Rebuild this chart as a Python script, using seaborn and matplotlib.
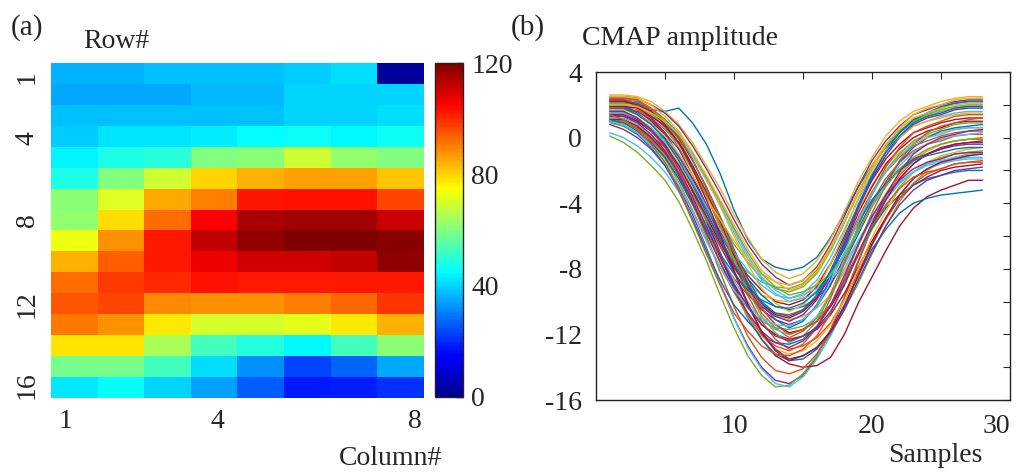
import numpy as np
import pandas as pd
import matplotlib
matplotlib.use("Agg")
import matplotlib.pyplot as plt
from matplotlib.colors import LinearSegmentedColormap
import seaborn as sns

# heatmap values per electrode (16 rows x 8 columns)
amp_grid = [
    [36, 36, 37.5, 37.5, 37.5, 39, 41, 2],
    [35, 35, 35, 37, 37, 40, 40, 40],
    [37.5, 37.5, 37.5, 37.5, 37.5, 40, 40, 41],
    [39, 42, 42, 43, 45, 46, 44.5, 46],
    [44, 48, 49.5, 60, 61, 69, 62, 60],
    [48, 60, 69, 80, 84, 86, 86, 82],
    [61, 71, 85, 90, 102.5, 103, 103, 97],
    [62, 79, 92, 105, 115, 116, 116, 111],
    [73, 88, 102, 112, 117.5, 120, 120, 119],
    [84, 94, 102, 107, 110.5, 110.5, 112, 118],
    [92, 98, 100, 103, 102, 102, 102, 102],
    [95, 97, 89, 88, 88, 90, 93, 98.5],
    [90.5, 88, 77.5, 70, 70, 72, 77.5, 84],
    [78, 78, 65, 52.5, 49, 44.5, 52.5, 61],
    [59, 59, 52.5, 41, 32, 23, 27, 35],
    [42.5, 45, 40, 34, 26, 18, 18.5, 21],
]
row_labels = ["1", "4", "8", "12", "16"]
col_labels = ["1", "4", "8"]

# CMAP waveforms, 28 samples each (estimated from the traces)
samples = list(range(1, 29))
waveforms = [
    [2.4, 2.4, 2.3, 1.7, 1.6, 1.8, 0.9, -0.4, -2.2, -4.4, -6.2, -7.4, -7.9, -8.1, -7.9, -7.3, -6.1, -4.6, -3.0, -1.7, -0.6, 0.3, 1.0, 1.5, 1.9, 2.1, 2.2, 2.2],
    [1.8, 1.8, 1.7, 1.2, 0.5, -0.4, -1.8, -3.5, -5.3, -7.3, -9.1, -10.7, -11.6, -12.2, -11.8, -11.0, -9.5, -7.6, -5.6, -3.9, -2.5, -1.5, -0.8, -0.4, -0.2, 0.1, 0.2, 0.2],
    [1.3, 1.1, 0.6, -0.1, -1.0, -2.2, -3.7, -5.3, -6.7, -8.0, -8.9, -9.6, -9.9, -10.0, -9.7, -8.9, -7.7, -6.1, -4.4, -2.9, -1.7, -0.9, -0.3, 0.1, 0.3, 0.5, 0.6, 0.6],
    [0.8, 0.5, 0.0, -0.7, -1.7, -3.0, -4.7, -6.7, -8.9, -11.0, -12.7, -14.0, -14.8, -15.0, -14.5, -13.4, -11.8, -9.8, -7.6, -5.5, -3.8, -2.5, -1.6, -1.0, -0.6, -0.4, -0.3, -0.3],
    [0.1, -0.3, -0.9, -1.7, -2.6, -3.9, -5.6, -7.5, -9.6, -11.6, -13.3, -14.5, -15.2, -15.1, -14.4, -13.3, -12.0, -10.5, -8.9, -7.1, -5.4, -3.9, -2.8, -2.0, -1.5, -1.2, -1.0, -0.9],
    [0.3, 0.0, -0.5, -1.2, -2.1, -3.3, -4.9, -6.8, -8.9, -11.0, -12.8, -14.1, -15.0, -15.2, -14.6, -13.5, -12.1, -10.4, -8.5, -6.6, -4.9, -3.5, -2.5, -1.9, -1.6, -1.4, -1.3, -1.3],
    [1.0, 0.9, 0.6, 0.1, -0.6, -1.7, -3.2, -5.0, -7.0, -9.0, -10.8, -12.3, -13.3, -13.8, -14.0, -13.9, -13.4, -12.0, -10.1, -8.5, -6.9, -5.4, -4.3, -3.6, -3.2, -2.9, -2.6, -2.6],
    [1.4, 1.3, 1.0, 0.4, -0.4, -1.6, -3.2, -5.1, -7.2, -9.2, -11.0, -12.3, -13.2, -13.6, -13.5, -12.9, -11.8, -10.2, -8.4, -6.8, -5.6, -4.6, -4.0, -3.7, -3.5, -3.4, -3.3, -3.2],
    [1.2, 1.0, 0.6, -0.1, -1.0, -2.3, -4.0, -6.0, -8.2, -10.3, -12.1, -13.4, -14.2, -14.4, -14.1, -13.2, -11.7, -9.7, -7.5, -5.4, -3.6, -2.3, -1.4, -0.8, -0.4, -0.2, -0.1, -0.1],
    [2.6, 2.6, 2.5, 2.2, 1.6, 0.8, -0.3, -1.7, -3.1, -4.7, -6.1, -7.4, -8.2, -8.6, -8.3, -7.5, -6.2, -4.5, -2.7, -1.2, 0.1, 1.0, 1.6, 1.9, 2.2, 2.4, 2.5, 2.5],
    [2.5, 2.5, 2.4, 2.0, 1.5, 0.7, -0.5, -1.9, -3.4, -5.0, -6.5, -7.7, -8.5, -9.0, -8.7, -7.9, -6.5, -4.8, -3.0, -1.4, -0.2, 0.7, 1.4, 1.7, 2.0, 2.2, 2.3, 2.3],
    [2.4, 2.4, 2.0, 1.5, 0.6, -0.6, -2.0, -3.5, -5.0, -6.5, -7.6, -8.6, -9.2, -9.4, -9.1, -8.3, -6.9, -5.2, -3.4, -1.8, -0.5, 0.4, 1.1, 1.4, 1.7, 1.9, 2.0, 2.0],
    [2.2, 2.2, 2.1, 1.7, 1.1, 0.3, -0.9, -2.4, -3.9, -5.6, -7.2, -8.5, -9.3, -9.8, -9.5, -8.7, -7.3, -5.6, -3.8, -2.2, -0.9, 0.0, 0.7, 1.0, 1.3, 1.5, 1.6, 1.6],
    [2.0, 2.0, 1.6, 1.0, 0.2, -1.1, -2.5, -4.1, -5.7, -7.2, -8.4, -9.3, -10.0, -10.2, -9.9, -9.1, -7.7, -6.0, -4.2, -2.6, -1.3, -0.4, 0.3, 0.6, 0.9, 1.1, 1.2, 1.2],
    [1.9, 1.9, 1.5, 0.9, 0.0, -1.2, -2.7, -4.3, -5.9, -7.4, -8.6, -9.6, -10.3, -10.5, -10.3, -9.8, -8.9, -7.6, -5.9, -4.2, -2.7, -1.5, -0.6, 0.0, 0.4, 0.6, 0.7, 0.8],
    [1.2, 1.0, 0.5, -0.2, -1.2, -2.5, -4.1, -5.8, -7.3, -8.6, -9.6, -10.3, -10.7, -10.8, -10.5, -9.7, -8.3, -6.7, -4.9, -3.3, -2.1, -1.2, -0.5, -0.2, 0.1, 0.3, 0.4, 0.4],
    [1.6, 1.6, 1.2, 0.6, -0.3, -1.6, -3.1, -4.8, -6.4, -7.9, -9.2, -10.2, -10.9, -11.1, -10.9, -10.4, -9.6, -8.2, -6.6, -4.9, -3.4, -2.2, -1.3, -0.8, -0.4, -0.2, -0.1, 0.0],
    [1.5, 1.5, 1.1, 0.5, -0.4, -1.7, -3.3, -5.0, -6.6, -8.2, -9.5, -10.5, -11.1, -11.4, -11.1, -10.3, -9.0, -7.3, -5.6, -4.0, -2.8, -1.9, -1.3, -1.0, -0.7, -0.5, -0.4, -0.4],
    [1.3, 1.0, 0.5, -0.3, -1.3, -2.7, -4.4, -6.2, -7.9, -9.4, -10.4, -11.2, -11.6, -11.7, -11.5, -11.0, -10.2, -8.9, -7.2, -5.6, -4.2, -3.0, -2.1, -1.6, -1.2, -1.0, -0.9, -0.8],
    [1.2, 1.2, 0.8, 0.1, -0.8, -2.1, -3.7, -5.4, -7.1, -8.7, -10.0, -11.1, -11.7, -12.0, -11.7, -10.9, -9.6, -8.0, -6.3, -4.8, -3.6, -2.7, -2.1, -1.7, -1.5, -1.3, -1.2, -1.2],
    [1.1, 1.1, 0.7, 0.0, -0.9, -2.3, -3.9, -5.6, -7.3, -9.0, -10.3, -11.4, -12.0, -12.3, -12.1, -11.7, -10.8, -9.5, -7.9, -6.3, -4.9, -3.7, -2.9, -2.4, -2.0, -1.8, -1.7, -1.6],
    [1.0, 0.7, 0.2, -0.6, -1.7, -3.2, -5.0, -6.9, -8.7, -10.2, -11.2, -12.1, -12.5, -12.6, -12.3, -11.5, -10.3, -8.7, -7.0, -5.5, -4.3, -3.5, -2.9, -2.5, -2.3, -2.1, -2.0, -2.0],
    [2.3, 2.3, 2.2, 1.7, 0.9, -0.1, -1.7, -3.5, -5.5, -7.6, -9.6, -11.2, -12.3, -12.9, -12.7, -12.2, -11.3, -9.9, -8.2, -6.5, -5.0, -3.7, -2.8, -2.2, -1.9, -1.6, -1.5, -1.4],
    [2.1, 2.1, 1.6, 0.9, -0.2, -1.7, -3.6, -5.6, -7.5, -9.4, -10.9, -12.1, -12.9, -13.2, -13.0, -12.4, -11.4, -9.9, -8.0, -6.1, -4.5, -3.1, -2.1, -1.5, -1.1, -0.9, -0.7, -0.6],
    [1.7, 1.7, 1.6, 1.1, 0.3, -0.7, -2.3, -4.1, -6.1, -8.2, -10.2, -11.8, -12.9, -13.5, -13.3, -12.8, -11.9, -10.5, -8.7, -7.0, -5.4, -4.1, -3.2, -2.6, -2.3, -2.0, -1.9, -1.8],
    [0.9, 0.7, 0.3, -0.3, -1.1, -2.2, -3.5, -5.0, -6.3, -7.4, -8.2, -8.8, -9.1, -9.2, -8.9, -8.1, -6.8, -5.1, -3.3, -1.8, -0.5, 0.4, 1.0, 1.3, 1.6, 1.8, 1.9, 1.9],
    [2.0, 2.0, 1.9, 1.5, 0.9, 0.1, -1.1, -2.6, -4.1, -5.8, -7.4, -8.7, -9.5, -10.0, -9.8, -9.5, -8.7, -7.7, -6.3, -5.0, -3.8, -2.8, -2.1, -1.6, -1.4, -1.2, -1.1, -1.0],
    [1.4, 1.4, 1.0, 0.4, -0.5, -1.7, -3.2, -4.8, -6.4, -7.9, -9.1, -10.1, -10.8, -11.0, -10.6, -9.8, -8.4, -6.6, -4.6, -3.0, -1.6, -0.7, 0.0, 0.4, 0.6, 0.9, 1.0, 1.0],
    [2.2, 2.2, 2.1, 1.6, 1.0, 0.0, -1.4, -3.0, -4.8, -6.8, -8.6, -10.1, -11.1, -11.6, -11.2, -10.2, -8.6, -6.5, -4.3, -2.4, -0.8, 0.3, 1.1, 1.5, 1.8, 2.1, 2.2, 2.2],
    [1.6, 1.6, 1.2, 0.4, -0.6, -2.1, -3.8, -5.7, -7.6, -9.4, -10.8, -12.0, -12.7, -13.0, -12.6, -11.6, -9.8, -7.7, -5.4, -3.4, -1.8, -0.6, 0.3, 0.7, 1.0, 1.3, 1.4, 1.4],
    [2.5, 2.5, 2.4, 2.0, 1.3, 0.4, -0.9, -2.5, -4.2, -6.0, -7.7, -9.2, -10.1, -10.6, -10.2, -9.3, -7.7, -5.8, -3.7, -1.9, -0.5, 0.6, 1.4, 1.8, 2.0, 2.3, 2.4, 2.4],
    [2.3, 2.3, 1.9, 1.2, 0.3, -1.1, -2.7, -4.5, -6.2, -7.8, -9.2, -10.3, -10.9, -11.2, -10.8, -9.9, -8.3, -6.4, -4.3, -2.5, -1.1, 0.0, 0.8, 1.2, 1.4, 1.7, 1.8, 1.8],
    [2.0, 2.0, 1.9, 1.4, 0.7, -0.3, -1.8, -3.5, -5.4, -7.4, -9.3, -10.9, -11.9, -12.5, -12.1, -11.2, -9.6, -7.5, -5.4, -3.5, -2.0, -1.0, -0.2, 0.2, 0.5, 0.8, 0.9, 0.9],
    [1.5, 1.5, 1.2, 0.6, -0.2, -1.3, -2.7, -4.2, -5.6, -7.0, -8.1, -9.0, -9.6, -9.8, -9.6, -9.2, -8.4, -7.2, -5.7, -4.1, -2.8, -1.7, -0.9, -0.4, -0.1, 0.1, 0.2, 0.3],
    [1.9, 1.9, 1.8, 1.3, 0.7, -0.3, -1.7, -3.3, -5.1, -7.1, -8.9, -10.4, -11.4, -11.9, -11.7, -11.2, -10.3, -8.9, -7.1, -5.3, -3.8, -2.5, -1.6, -1.0, -0.7, -0.4, -0.3, -0.2],
    [1.1, 0.9, 0.4, -0.3, -1.2, -2.5, -4.0, -5.6, -7.1, -8.3, -9.3, -9.9, -10.3, -10.4, -10.1, -9.4, -8.2, -6.8, -5.2, -3.8, -2.8, -2.0, -1.4, -1.1, -0.9, -0.7, -0.6, -0.6],
    [2.4, 2.4, 2.3, 1.8, 1.1, 0.1, -1.3, -3.1, -4.9, -7.0, -8.8, -10.4, -11.4, -12.0, -11.7, -11.2, -10.2, -8.6, -6.6, -4.6, -2.9, -1.4, -0.4, 0.3, 0.7, 0.9, 1.1, 1.2],
    [1.7, 1.7, 1.4, 0.8, 0.1, -1.0, -2.3, -3.7, -5.0, -6.3, -7.4, -8.3, -8.8, -9.0, -8.7, -8.0, -6.7, -5.1, -3.4, -2.0, -0.8, 0.0, 0.7, 1.0, 1.2, 1.4, 1.5, 1.5],
    [1.3, 1.3, 0.9, 0.2, -0.8, -2.2, -3.9, -5.8, -7.6, -9.3, -10.7, -11.8, -12.5, -12.8, -12.4, -11.6, -10.2, -8.4, -6.5, -4.8, -3.5, -2.6, -1.9, -1.5, -1.3, -1.0, -0.9, -0.9],
    [2.1, 2.1, 2.0, 1.6, 1.1, 0.2, -0.9, -2.4, -3.9, -5.5, -7.0, -8.3, -9.1, -9.6, -9.4, -9.0, -8.3, -7.1, -5.7, -4.2, -3.0, -1.9, -1.2, -0.7, -0.4, -0.2, -0.1, 0.0],
    [1.0, 0.8, 0.3, -0.5, -1.5, -2.9, -4.5, -6.3, -7.9, -9.3, -10.3, -11.0, -11.4, -11.5, -11.1, -10.3, -8.8, -7.0, -5.1, -3.4, -2.1, -1.1, -0.4, 0.0, 0.2, 0.5, 0.6, 0.6],
    [2.2, 2.2, 2.0, 1.6, 0.8, -0.3, -1.9, -3.8, -5.9, -8.1, -10.1, -11.9, -13.0, -13.6, -13.3, -12.8, -11.8, -10.3, -8.4, -6.5, -4.9, -3.5, -2.5, -1.9, -1.5, -1.3, -1.1, -1.0],
    [1.8, 1.8, 1.4, 0.8, -0.1, -1.4, -2.9, -4.6, -6.2, -7.7, -9.0, -10.0, -10.7, -10.9, -10.5, -9.6, -8.1, -6.2, -4.1, -2.3, -0.9, 0.1, 0.9, 1.3, 1.5, 1.8, 1.9, 1.9],
    [1.4, 1.1, 0.5, -0.4, -1.5, -3.2, -5.1, -7.1, -9.0, -10.7, -11.8, -12.7, -13.2, -13.3, -12.9, -12.1, -10.7, -8.9, -7.0, -5.4, -4.1, -3.1, -2.4, -2.1, -1.9, -1.6, -1.5, -1.5],
    [2.0, 2.0, 1.9, 1.5, 1.0, 0.2, -0.9, -2.3, -3.8, -5.3, -6.8, -8.1, -8.8, -9.3, -9.0, -8.2, -6.8, -5.1, -3.3, -1.7, -0.4, 0.5, 1.2, 1.5, 1.8, 2.0, 2.1, 2.1],
    [1.6, 1.6, 1.2, 0.5, -0.5, -1.9, -3.6, -5.4, -7.2, -8.9, -10.3, -11.4, -12.1, -12.4, -12.1, -11.6, -10.6, -9.0, -7.1, -5.2, -3.5, -2.1, -1.0, -0.4, 0.0, 0.2, 0.4, 0.5],
]
line_colors = ["#0072BD", "#D95319", "#EDB120", "#7E2F8E", "#77AC30", "#4DBEEE", "#A2142F"]

# MATLAB-style jet
jet_m = LinearSegmentedColormap.from_list(
    "jet_m",
    [(0.0, (0, 0, 0.55)), (0.125, (0, 0, 1)), (0.375, (0, 1, 1)),
     (0.625, (1, 1, 0)), (0.875, (1, 0, 0)), (1.0, (0.5, 0, 0))])

sns.set_style("white")
plt.rcParams["font.family"] = ["Liberation Serif", "DejaVu Serif"]
plt.rcParams["font.size"] = 20

fig = plt.figure(figsize=(10.17, 4.73), dpi=100)
ax1 = fig.add_axes([0.0501, 0.1586, 0.3668, 0.7082])
cax = fig.add_axes([0.4277, 0.1607, 0.0275, 0.7061])
ax2 = fig.add_axes([0.586, 0.1543, 0.4071, 0.6934])

# (a) amplitude map
sns.heatmap(np.array(amp_grid), cmap=jet_m, vmin=0, vmax=120, ax=ax1, cbar_ax=cax,
            xticklabels=False, yticklabels=False)
ax1.set_xticks([0.32, 3.56, 7.8])
ax1.set_xticklabels(col_labels, fontsize=20)
ax1.set_yticks([0.65, 3.6, 7.5, 11.5, 15.4])
ax1.set_yticklabels(row_labels, rotation=90, va="center", fontsize=20)
ax1.tick_params(length=0, pad=8)
ax1.set_xlabel("")
ax1.set_ylabel("")

cb = ax1.collections[0].colorbar
cb.set_ticks([0, 20, 40, 60, 80, 100, 120])
cb.set_ticklabels(["0", "", "40", "", "80", "", "120"])
cb.ax.tick_params(direction="in", length=5, width=1, labelsize=20, pad=6)
cb.outline.set_edgecolor("#222222")
cb.outline.set_linewidth(1)

# (b) waveforms
rows = []
for k, wave in enumerate(waveforms):
    for s, v in zip(samples, wave):
        rows.append({"sample": s, "amp": v, "ch": f"ch{k:02d}"})
df = pd.DataFrame(rows)
pal = [line_colors[k % len(line_colors)] for k in range(len(waveforms))]
sns.lineplot(data=df, x="sample", y="amp", hue="ch", palette=pal, legend=False,
             estimator=None, linewidth=1.0, ax=ax2)
ax2.set_xlim(0, 30)
ax2.set_ylim(-16, 4)
ax2.set_xticks([5, 10, 15, 20, 25, 30])
ax2.set_xticklabels(["", "10", "", "20", "", "30"])
ax2.get_xticklabels()[-1].set_ha("right")
ax2.set_yticks(np.arange(-16, 5, 2))
ax2.set_yticklabels(["-16", "", "-12", "", "-8", "", "-4", "", "0", "", "4"])
ax2.tick_params(direction="in", length=5, width=0.8, top=True, right=True,
                labelsize=20, pad=10)
ax2.set_xlabel("")
ax2.set_ylabel("")
for sp in ax2.spines.values():
    sp.set_color("#222222")
    sp.set_linewidth(1)

fig.text(27 / 1017, 1 - 28 / 473, "(a)", fontsize=21, ha="center", va="center")
fig.text(83 / 1017, 1 - 48 / 473, "Row#", fontsize=20, ha="left", va="baseline")
fig.text(442 / 1017, 1 - 465 / 473, "Column#", fontsize=20, ha="right", va="baseline")
fig.text(528 / 1017, 1 - 28 / 473, "(b)", fontsize=21, ha="center", va="center")
fig.text(582 / 1017, 1 - 45 / 473, "CMAP amplitude", fontsize=20, ha="left", va="baseline")
fig.text(983 / 1017, 1 - 462 / 473, "Samples", fontsize=20, ha="right", va="baseline")

fig.savefig("out.png", dpi=100)
